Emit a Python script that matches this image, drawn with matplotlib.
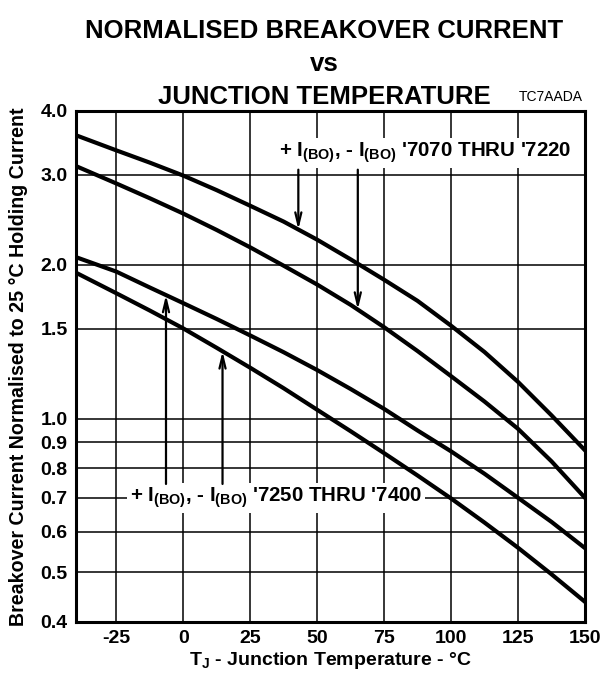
import numpy as np
import matplotlib.pyplot as plt

plt.rcParams['font.family'] = ['Liberation Sans', 'DejaVu Sans']
plt.rcParams['font.weight'] = 'bold'
plt.rcParams['mathtext.fontset'] = 'custom'
plt.rcParams['mathtext.rm'] = 'Liberation Sans:bold'
plt.rcParams['mathtext.default'] = 'rm'

# junction temperature (degC)
temp = np.array([-40, -25, -12.5, 0, 12.5, 25, 37.5, 50, 62.5, 75, 87.5, 100, 112.5, 125, 137.5, 150])

# '7070 thru '7220
hi_pos = np.array([3.585, 3.35, 3.17, 2.99, 2.80, 2.61, 2.43, 2.24, 2.05, 1.87, 1.70, 1.52,
                   1.35, 1.18, 1.015, 0.867])
hi_neg = np.array([3.12, 2.886, 2.70, 2.52, 2.34, 2.164, 1.992, 1.83, 1.67, 1.51, 1.356, 1.211,
                   1.08, 0.955, 0.825, 0.70])
# '7250 thru '7400
lo_pos = np.array([2.07, 1.94, 1.806, 1.683, 1.567, 1.455, 1.349, 1.245, 1.143, 1.045, 0.948,
                   0.863, 0.78, 0.70, 0.628, 0.558])
lo_neg = np.array([1.93, 1.76, 1.628, 1.502, 1.376, 1.258, 1.147, 1.041, 0.945, 0.856, 0.774,
                   0.698, 0.626, 0.559, 0.496, 0.438])

xticks = [-25, 0, 25, 50, 75, 100, 125, 150]
yticks = [0.4, 0.5, 0.6, 0.7, 0.8, 0.9, 1.0, 1.5, 2.0, 3.0, 4.0]
ytick_labels = ["0.4", "0.5", "0.6", "0.7", "0.8", "0.9", "1.0", "1.5", "2.0", "3.0", "4.0"]

fig = plt.figure(figsize=(6.05, 6.82), dpi=100)
ax = fig.add_axes([0.1256, 0.088, 0.8413, 0.7493])

for y in [hi_pos, hi_neg, lo_pos, lo_neg]:
    ax.plot(temp, y, color='black', lw=3.0, solid_joinstyle='round', zorder=4)

ax.set_yscale('log')
ax.set_xlim(-40, 150)
ax.set_ylim(0.4, 4.0)
ax.set_xticks(xticks)
ax.set_xticklabels([str(t) for t in xticks])
ax.set_yticks(yticks)
ax.set_yticklabels(ytick_labels)
ax.yaxis.set_minor_locator(plt.NullLocator())
ax.tick_params(length=0, labelsize=14, pad=6)
for lab in ax.get_xticklabels() + ax.get_yticklabels():
    lab.set_fontweight('bold')
ax.grid(True, color='black', lw=1.1)
ax.set_axisbelow(True)
for s in ax.spines.values():
    s.set_linewidth(2.2)

ax.set_xlabel("T$_{J}$ - Junction Temperature - °C", fontsize=14, fontweight='bold', labelpad=2)
ax.set_ylabel("Breakover Current Normalised to 25 °C Holding Current", fontsize=14.1,
              fontweight='bold', labelpad=9)

box = dict(facecolor='white', edgecolor='none', pad=2)
ax.text(35.7, 3.31, "+ I$_{(BO)}$, - I$_{(BO)}$ '7070 THRU '7220", fontsize=14.8,
        fontweight='bold', va='center', ha='left', bbox=box, zorder=3)
ax.text(-19.9, 0.70, "+ I$_{(BO)}$, - I$_{(BO)}$ '7250 THRU '7400", fontsize=14.8,
        fontweight='bold', va='center', ha='left', bbox=box, zorder=3)

arrow = dict(arrowstyle='->, head_length=0.9, head_width=0.22', color='black', lw=1.6,
             shrinkA=0, shrinkB=0)
ax.annotate("", xy=(43, 2.344), xytext=(43, 3.07), arrowprops=arrow, zorder=5)
ax.annotate("", xy=(65.2, 1.635), xytext=(65.2, 3.07), arrowprops=arrow, zorder=5)
ax.annotate("", xy=(-6.4, 1.745), xytext=(-6.4, 0.745), arrowprops=arrow, zorder=5)
ax.annotate("", xy=(14.7, 1.354), xytext=(14.7, 0.745), arrowprops=arrow, zorder=5)

fig.text(0.536, 0.955, "NORMALISED BREAKOVER CURRENT", fontsize=18.5, fontweight='bold',
         ha='center', va='center')
fig.text(0.536, 0.906, "vs", fontsize=18.5, fontweight='bold', ha='center', va='center')
fig.text(0.536, 0.858, "JUNCTION TEMPERATURE", fontsize=18.5, fontweight='bold',
         ha='center', va='center')
fig.text(0.964, 0.848, "TC7AADA", fontsize=10, fontweight='normal', ha='right', va='bottom')

fig.savefig("out.png", dpi=100)
